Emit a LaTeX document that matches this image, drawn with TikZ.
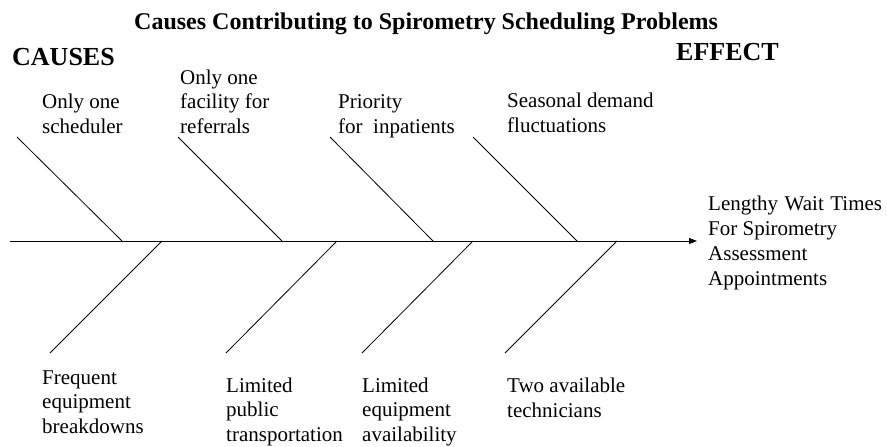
\documentclass[tikz,border=0pt]{standalone}
\usepackage{fontspec}
\setmainfont{Liberation Serif}
\usetikzlibrary{arrows.meta}
\tikzset{
  bone/.style={line width=0.8pt},
  spine/.style={line width=0.9pt,-{Triangle[length=8pt,width=6pt]}},
  lbl/.style={anchor=base west,inner sep=0pt,align=left,font=\fontsize{21}{24.3}\selectfont},
  head/.style={anchor=base west,inner sep=0pt,font=\fontsize{26}{30}\selectfont\bfseries},
  ttl/.style={anchor=base west,inner sep=0pt,font=\fontsize{24}{28}\selectfont\bfseries}
}
\begin{document}
\begin{tikzpicture}[x=1pt,y=-1pt]
\useasboundingbox (0,0) rectangle (887,447);
\clip (0,0) rectangle (887,447);
% titles
\node[ttl] (title) at (134,29) {Causes Contributing to Spirometry Scheduling Problems};
\node[head] (causes) at (12,65) {CAUSES};
\node[head] (effect) at (676,60) {EFFECT};
% spine
\coordinate (s0) at (10,241);
\coordinate (s1) at (697,241);
\draw[spine] (s0) -- (s1);
% top bones
\coordinate (t1a) at (17,137);  \coordinate (t1b) at (122,241);
\coordinate (t2a) at (178,137); \coordinate (t2b) at (282,241);
\coordinate (t3a) at (330,137); \coordinate (t3b) at (433,241);
\coordinate (t4a) at (473,137); \coordinate (t4b) at (577,241);
\draw[bone] (t1a) -- (t1b);
\draw[bone] (t2a) -- (t2b);
\draw[bone] (t3a) -- (t3b);
\draw[bone] (t4a) -- (t4b);
% bottom bones
\coordinate (b1a) at (162,241); \coordinate (b1b) at (50,353);
\coordinate (b2a) at (337,241); \coordinate (b2b) at (226,353);
\coordinate (b3a) at (473,241); \coordinate (b3b) at (362,353);
\coordinate (b4a) at (617,241); \coordinate (b4b) at (505,353);
\draw[bone] (b1a) -- (b1b);
\draw[bone] (b2a) -- (b2b);
\draw[bone] (b3a) -- (b3b);
\draw[bone] (b4a) -- (b4b);
% top labels (anchor = baseline of last line)
\node[lbl] (c1) at (42,133) {Only one\\scheduler};
\node[lbl] (c2) at (180,133) {Only one\\facility for\\referrals};
\node[lbl] (c3) at (338,133) {Priority\\for\ \ inpatients};
\node[lbl] (c4) at (507,132) {Seasonal demand\\fluctuations};
% bottom labels
\node[lbl] (c5) at (42,433) {Frequent\\equipment\\breakdowns};
\node[lbl] (c6) at (226,441) {Limited\\public\\transportation};
\node[lbl] (c7) at (362,441) {Limited\\equipment\\availability};
\node[lbl] (c8) at (507,417) {Two available\\technicians};
% effect
\node[lbl,font=\fontsize{21}{25}\selectfont] (eff) at (708,285) {Lengthy\hspace{6.5pt}Wait\hspace{6.5pt}Times\\For Spirometry\\Assessment\\Appointments};
\end{tikzpicture}
\end{document}
